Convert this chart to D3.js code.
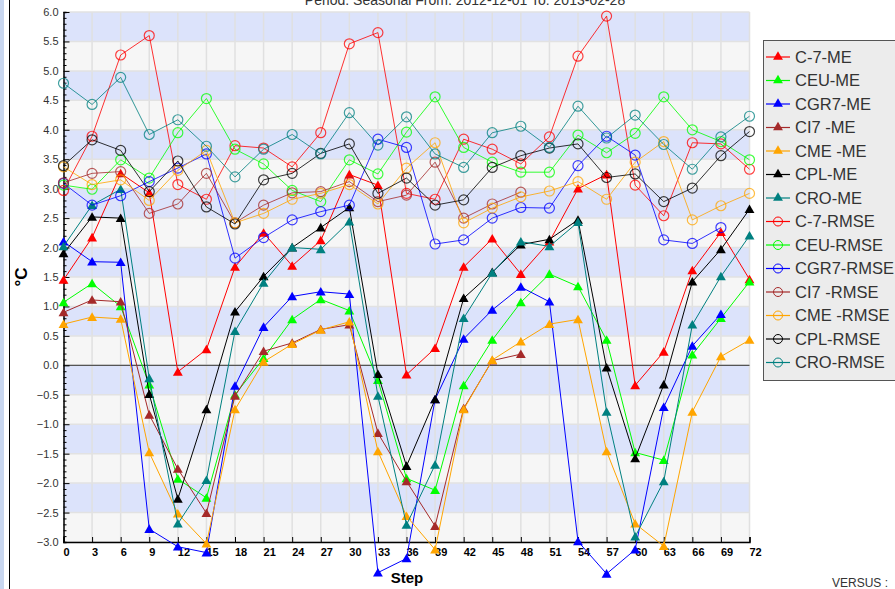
<!DOCTYPE html>
<html><head><meta charset="utf-8">
<script src="https://cdn.jsdelivr.net/npm/d3@7"></script>
<style>body{margin:0;background:#fff;font-family:Arial,"Liberation Sans",sans-serif;}</style>
</head><body><svg id="c" width="895" height="589"></svg>
<script>
const steps = d3.range(0, 73, 3);
const names = ["C-7-ME","CEU-ME","CGR7-ME","CI7 -ME","CME -ME","CPL-ME","CRO-ME","C-7-RMSE","CEU-RMSE","CGR7-RMSE","CI7 -RMSE","CME -RMSE","CPL-RMSE","CRO-RMSE"];
const colors = ["#ff0000","#00ff00","#0000ff","#a52a2a","#ffa500","#000000","#008080","#ff0000","#00ff00","#0000ff","#a52a2a","#ffa500","#000000","#008080"];
const N = null;
const c7ME   = [1.45,2.17,3.26,2.93,-0.11,0.27,1.67,2.25,1.69,2.12,3.24,3.06,-0.16,0.29,1.67,2.15,1.55,2.1,3.0,3.24,-0.34,0.23,1.61,2.26,1.46];
const ceuME  = [1.07,1.39,1.0,-0.33,-1.93,-2.25,-0.5,0.12,0.78,1.12,0.93,-0.25,-1.92,-2.12,-0.34,0.43,1.07,1.55,1.34,0.43,-1.48,-1.61,0.18,0.8,1.42];
const cgr7ME = [2.1,1.76,1.75,-2.78,-3.08,-3.18,-0.35,0.65,1.17,1.25,1.21,-3.52,-3.28,-0.58,0.45,0.94,1.33,1.08,-2.99,-3.54,-3.13,-0.71,0.33,0.87,N];
const ci7ME  = [0.9,1.11,1.08,-0.84,-1.76,-2.51,-0.52,0.24,0.38,0.61,0.69,-1.15,-1.97,-2.73,-0.73,0.08,0.19,N,N,N,N,N,N,N,N];
const cmeME  = [0.7,0.82,0.79,-1.48,-2.52,-3.03,-0.75,0.06,0.36,0.6,0.74,-1.46,-2.56,-3.13,-0.75,0.09,0.4,0.7,0.78,-1.46,-2.69,-3.07,-0.79,0.15,0.43];
const cplME  = [1.9,2.52,2.5,-0.49,-2.27,-0.75,0.91,1.51,2.0,2.34,2.68,-0.15,-1.71,-0.58,1.14,1.58,2.05,2.14,2.47,-0.04,-1.58,-0.33,1.42,1.97,2.65];
const croME  = [2.02,2.72,2.99,-0.22,-2.69,-1.95,0.58,1.4,2.0,1.97,2.44,-0.52,-2.71,-1.69,0.8,1.57,2.1,2.02,2.43,-0.79,-2.91,-1.97,0.69,1.51,2.2];
const c7RM   = [2.97,3.89,5.27,5.6,3.07,2.82,3.73,3.69,3.37,3.95,5.46,5.65,2.92,2.82,3.84,3.67,3.42,3.88,5.25,5.93,3.06,2.54,3.78,3.76,3.33];
const ceuRM  = [3.06,2.99,3.49,3.18,3.95,4.53,3.67,3.42,2.97,2.78,3.49,3.25,3.96,4.56,3.7,3.45,3.28,3.28,3.91,3.61,3.94,4.56,4.0,3.8,3.49];
const cgr7RM = [3.09,2.72,2.88,3.12,3.35,3.59,1.82,2.17,2.47,2.61,2.72,3.84,3.7,2.06,2.13,2.5,2.68,2.67,3.39,3.89,3.57,2.13,2.07,2.34,N];
const ci7RM  = [3.1,3.26,3.29,2.58,2.74,3.26,2.42,2.72,2.93,2.95,3.12,2.78,2.89,3.45,2.5,2.74,2.94,N,N,N,N,N,N,N,N];
const cmeRM  = [3.37,3.07,3.15,2.8,3.31,3.65,2.42,2.58,2.82,2.92,3.07,2.74,3.35,3.78,2.42,2.67,2.86,2.96,3.12,2.82,3.45,3.8,2.47,2.71,2.92];
const cplRM  = [3.39,3.83,3.65,2.95,3.47,2.69,2.4,3.15,3.26,3.6,3.76,2.92,3.18,2.72,2.81,3.36,3.56,3.69,3.76,3.19,3.25,2.78,3.01,3.56,3.97];
const croRM  = [4.79,4.43,4.89,3.92,4.17,3.72,3.2,3.67,3.92,3.59,4.29,3.74,4.22,3.59,3.36,3.95,4.06,3.7,4.4,3.86,4.25,3.75,3.33,3.88,4.23];
const seriesValues = [c7ME,ceuME,cgr7ME,ci7ME,cmeME,cplME,croME,c7RM,ceuRM,cgr7RM,ci7RM,cmeRM,cplRM,croRM];
const yTicks = d3.range(-3, 6.01, 0.5);

const svg = d3.select("#c");
const L = 63.5, R = 749.5, T = 12, B = 542;
const x = d3.scaleLinear().domain([0,72]).range([L,R]);
const y = d3.scaleLinear().domain([-3,6]).range([B,T]);

// page decorations
svg.append("rect").attr("x",0).attr("y",0).attr("width",4).attr("height",589).attr("fill","#c8d6ef");
svg.append("line").attr("x1",9.5).attr("x2",9.5).attr("y1",0).attr("y2",589).attr("stroke","#000");

// bands
const bands = d3.range(-6, 12);
svg.append("g").selectAll("rect").data(bands).join("rect")
  .attr("x",L).attr("width",R-L)
  .attr("y",k=>y((k+1)*0.5)).attr("height",k=>y(k*0.5)-y((k+1)*0.5))
  .attr("fill",k=>(Math.abs(k)%2===1)?"#dce3fb":"#f6f6f6");
// grid
svg.append("g").selectAll("line").data(steps.slice(1)).join("line")
  .attr("x1",d=>x(d)).attr("x2",d=>x(d)).attr("y1",T).attr("y2",B)
  .attr("stroke","#e0e0e0").attr("stroke-width",1.5);
svg.append("g").selectAll("line").data(yTicks).join("line")
  .attr("x1",L).attr("x2",R).attr("y1",d=>y(d)).attr("y2",d=>y(d))
  .attr("stroke","#e2e2e2").attr("stroke-width",1.5);
svg.append("line").attr("x1",L).attr("x2",R).attr("y1",y(0)).attr("y2",y(0)).attr("stroke","#555").attr("stroke-width",1.3);

// axes
const yAxis = d3.axisRight(y).tickValues(d3.range(-3,6.01,0.1)).tickSize(3).tickFormat("");
const gy = svg.append("g").attr("transform",`translate(${L},0)`).call(yAxis);
gy.selectAll(".tick line").attr("x2",d=>Math.abs(Math.round(d*10)%5)===0?6:3).attr("stroke","#000");
gy.select(".domain").attr("stroke","#000").attr("stroke-width",1.5);
svg.append("g").selectAll("text").data(yTicks).join("text")
  .attr("x",L-5).attr("y",d=>y(d)+4).attr("text-anchor","end")
  .attr("font-size",11).attr("fill","#333").text(d=>d3.format(".1f")(d));
const xAxis = d3.axisTop(x).tickValues(steps).tickSize(5).tickFormat("");
const gx = svg.append("g").attr("transform",`translate(0,${B})`).call(xAxis);
gx.selectAll(".tick line").attr("stroke","#000");
gx.select(".domain").attr("stroke","#000").attr("stroke-width",1.5);
svg.append("g").selectAll("text").data(steps).join("text")
  .attr("x",d=>x(d)).attr("y",B+14).attr("font-size",11).attr("font-weight","bold")
  .attr("fill","#000").text(d=>d);
svg.append("text").attr("x",407).attr("y",583).attr("text-anchor","middle").attr("font-size",15).attr("font-weight","bold").text("Step");
svg.append("text").attr("transform","translate(27,277) rotate(-90)").attr("text-anchor","middle").attr("font-size",17).attr("font-weight","bold").text("°C");
svg.append("text").attr("x",465).attr("y",5).attr("text-anchor","middle").attr("font-size",14).attr("fill","#333").text("Period: Seasonal From: 2012-12-01  To: 2013-02-28");
svg.append("text").attr("x",832).attr("y",587).attr("font-size",12).attr("fill","#333").text("VERSUS :");

// series
const tri = d3.symbol().type(d3.symbolTriangle).size(42);
const line = d3.line().defined(d=>d!=null).x((d,i)=>x(steps[i])).y(d=>y(d));
seriesValues.forEach((vals,si)=>{
  const col = colors[si], isME = si<7;
  const g = svg.append("g");
  g.append("path").attr("d",line(vals)).attr("fill","none").attr("stroke",col).attr("stroke-width",1).attr("stroke-opacity",isME?1:0.8);
  const pts = vals.map((v,i)=>({v,s:steps[i]})).filter(p=>p.v!=null);
  if(isME){
    g.selectAll("path.m").data(pts).join("path").attr("class","m").attr("d",tri)
      .attr("transform",p=>`translate(${x(p.s)},${y(p.v)+1})`).attr("fill",col);
  } else {
    g.selectAll("circle").data(pts).join("circle").attr("cx",p=>x(p.s)).attr("cy",p=>y(p.v)).attr("r",5)
      .attr("fill","none").attr("stroke",col).attr("stroke-opacity",0.75).attr("stroke-width",1.2);
  }
});

// legend
const lg = svg.append("g");
lg.append("rect").attr("x",763.5).attr("y",40.5).attr("width",140).attr("height",340).attr("fill","#ececec").attr("stroke","#555");
names.forEach((n,i)=>{
  const yy = 57 + i*23.5, col = colors[i];
  lg.append("line").attr("x1",766).attr("x2",790).attr("y1",yy).attr("y2",yy).attr("stroke",col).attr("stroke-width",1.2);
  if(i<7) lg.append("path").attr("d",tri).attr("transform",`translate(778,${yy})`).attr("fill",col);
  else lg.append("circle").attr("cx",778).attr("cy",yy).attr("r",4.5).attr("fill","none").attr("stroke",col);
  lg.append("text").attr("x",795).attr("y",yy+5.5).attr("font-size",16.5).attr("fill","#333").text(n);
});
</script></body></html>
